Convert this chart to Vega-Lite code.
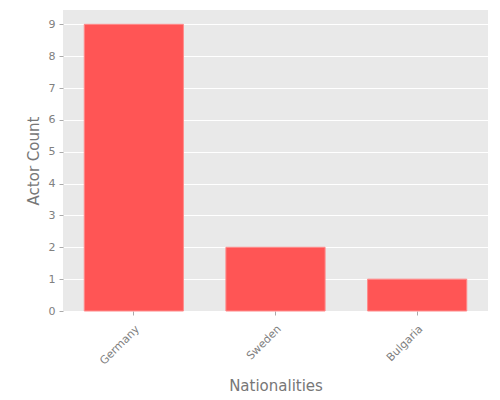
{
  "$schema": "https://vega.github.io/schema/vega-lite/v6.json",
  "width": 425,
  "height": 301,
  "autosize": "none",
  "padding": {"left": 63, "top": 10, "right": 12, "bottom": 89},
  "background": "white",
  "data": {
    "values": [
      {"nationality": "Germany", "count": 9},
      {"nationality": "Sweden", "count": 2},
      {"nationality": "Bulgaria", "count": 1}
    ]
  },
  "mark": {"type": "bar", "color": "#ff5555", "stroke": "#ff8a8a", "strokeWidth": 1},
  "encoding": {
    "x": {
      "field": "nationality",
      "type": "nominal",
      "sort": null,
      "title": "Nationalities",
      "scale": {"paddingInner": 0.3, "paddingOuter": 0.15},
      "axis": {
        "labelAngle": -45,
        "labelAlign": "right",
        "labelBaseline": "middle",
        "labelPadding": 12,
        "labelOffset": 4,
        "titlePadding": 12
      }
    },
    "y": {
      "field": "count",
      "type": "quantitative",
      "title": "Actor Count",
      "scale": {"domain": [0, 9.45], "nice": false},
      "axis": {"values": [0, 1, 2, 3, 4, 5, 6, 7, 8, 9], "titlePadding": 7}
    }
  },
  "config": {
    "font": "DejaVu Sans",
    "view": {"fill": "#e9e9e9", "stroke": null},
    "axis": {
      "domain": false,
      "grid": true,
      "gridColor": "white",
      "gridWidth": 1,
      "tickColor": "#aaaaaa",
      "tickSize": 4,
      "labelColor": "#808080",
      "labelFontSize": 11,
      "labelPadding": 4,
      "titleColor": "#777777",
      "titleFontSize": 15,
      "titleFontWeight": "normal"
    },
    "axisX": {"grid": false}
  }
}
